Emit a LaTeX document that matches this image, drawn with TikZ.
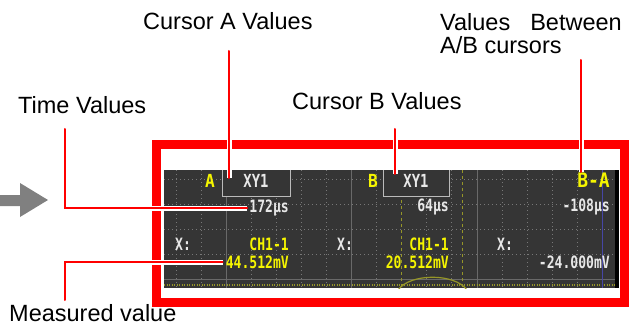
\documentclass[tikz,border=0pt]{standalone}
\usepackage{fontspec}
\setmainfont{Liberation Sans}
\newfontfamily\lcdfont[FakeStretch=0.77]{DejaVu Sans Mono}
\newfontfamily\lcdbig[FakeStretch=0.9]{DejaVu Sans Mono}
\usetikzlibrary{calc}
\definecolor{scrbg}{RGB}{53,53,53}
\definecolor{lcdyellow}{RGB}{245,245,0}
\definecolor{lcdwhite}{RGB}{232,232,232}
\definecolor{callred}{RGB}{255,0,0}
\definecolor{arrowgray}{RGB}{128,128,128}
\definecolor{griddot}{RGB}{120,120,120}
\definecolor{gridline}{RGB}{105,105,105}
\definecolor{traceolive}{RGB}{150,150,40}
\definecolor{cursorblue}{RGB}{70,70,165}
\tikzset{
  lbl/.style={font=\fontsize{23.5}{23}\selectfont, inner sep=0pt, align=left},
  lcd/.style={font=\lcdfont\bfseries\fontsize{17}{18}\selectfont, inner sep=0pt, text=lcdwhite},
  lcdy/.style={lcd, text=lcdyellow},
  cursmark/.style={font=\lcdbig\bfseries\fontsize{18}{19}\selectfont, inner sep=0pt, text=lcdyellow},
  xybox/.style={lcd, font=\lcdfont\bfseries\fontsize{18}{19}\selectfont,
                draw=lcdwhite!75!scrbg, line width=1pt, fill=scrbg,
                minimum height=30pt},
  callout/.style={draw=callred, line width=2pt, line cap=round,
                  preaction={draw=white, line width=5pt}},
  dotgrid/.style={griddot, line width=0.8pt, dash pattern=on 1pt off 3pt},
  cursorline/.style={traceolive, line width=1pt, dash pattern=on 3pt off 3pt},
}

\begin{document}
\begin{tikzpicture}[x=1pt, y=-1pt]
  \useasboundingbox (0,0) rectangle (629,326);
  % labels
  \node[lbl, anchor=base west] (lblA) at (143,30) {Cursor A Values};
  \node[lbl, anchor=north west] (lblBA) at (440,13) {Values\hspace{20pt}Between\\A/B cursors};
  \node[lbl, anchor=base west] (lblTime) at (18,114) {Time Values};
  \node[lbl, anchor=base west] (lblB) at (292,110) {Cursor B Values};
  \node[lbl, anchor=base west] (lblMeas) at (9,321) {Measured value};

  % gray arrow
  \fill[arrowgray] (0,195) -- (20,195) -- (20,183) -- (48,200) -- (20,217) -- (20,206) -- (0,206) -- cycle;

  % red frame
  \draw[callred, line width=9pt] (156,145) rectangle (624,302);

  % screen
  \fill[black] (615,170) rectangle (619,288);
  \begin{scope}
    \clip (164,170) rectangle (615,288);
    \fill[scrbg] (164,170) rectangle (615,288);
    \foreach \y in {179,204,229,254}
      \draw[dotgrid] (164,\y) -- (615,\y);
    \foreach \x in {176,201,251,276,301,326,376,426,451,502,527,552,577}
      \draw[dotgrid] (\x,170) -- (\x,288);
    \foreach \x in {226,351,477}
      \draw[gridline, line width=1pt] (\x,170) -- (\x,288);
    \draw[gridline, line width=1pt] (164,279) -- (615,279);
    \draw[traceolive, line width=2.5pt, dash pattern=on 1pt off 1.5pt] (164,285) -- (615,285);
    \draw[traceolive, line width=1.2pt] (398,290) .. controls (410,273) and (455,273) .. (467,290);
    \draw[cursorline] (401,170) -- (401,288);
    \draw[cursorline] (462,170) -- (462,288);
    \draw[cursorblue, line width=1pt] (602,170) -- (602,288);

    % cursor A column
    \node[cursmark] (curA) at (210,181) {A};
    \node[xybox, minimum width=68pt] (boxA) at (256,181) {XY1};
    \node[lcd, anchor=east] (timeA) at (289,208) {172µs};
    \node[lcd] (xA) at (183,244) {X:};
    \node[lcdy, anchor=east] (chA) at (289,244) {CH1-1};
    \node[lcdy, anchor=east] (valA) at (289,262) {44.512mV};

    % cursor B column
    \node[cursmark] (curB) at (373,181) {B};
    \node[xybox, minimum width=66pt] (boxB) at (416,181) {XY1};
    \node[lcd, anchor=east] (timeB) at (449,207) {64µs};
    \node[lcd] (xB) at (345,244) {X:};
    \node[lcdy, anchor=east] (chB) at (449,244) {CH1-1};
    \node[lcdy, anchor=east] (valB) at (449,262) {20.512mV};

    % B-A column
    \node[cursmark, font=\lcdbig\bfseries\fontsize{20}{21}\selectfont, anchor=east] (curBA) at (610,180) {B-A};
    \node[lcd, anchor=east] (timeBA) at (610,207) {-108µs};
    \node[lcd] (xBA) at (505,244) {X:};
    \node[lcd, anchor=east] (valBA) at (610,262) {-24.000mV};
  \end{scope}

  % callouts
  \coordinate (aTop) at (229,51);
  \coordinate (bTop) at (395,129);
  \coordinate (baTop) at (581,60);
  \coordinate (tTop) at (65,129);
  \coordinate (mEnd) at (65,300);
  \draw[callout] (aTop) -- (229,178);
  \draw[callout] (bTop) -- (395,174);
  \draw[callout] (baTop) -- (581,172);
  \draw[callout] ([xshift=-2pt]timeA.west) -| (tTop);
  \draw[callout] ([xshift=-3pt]valA.west) -| (mEnd);
\end{tikzpicture}
\end{document}
